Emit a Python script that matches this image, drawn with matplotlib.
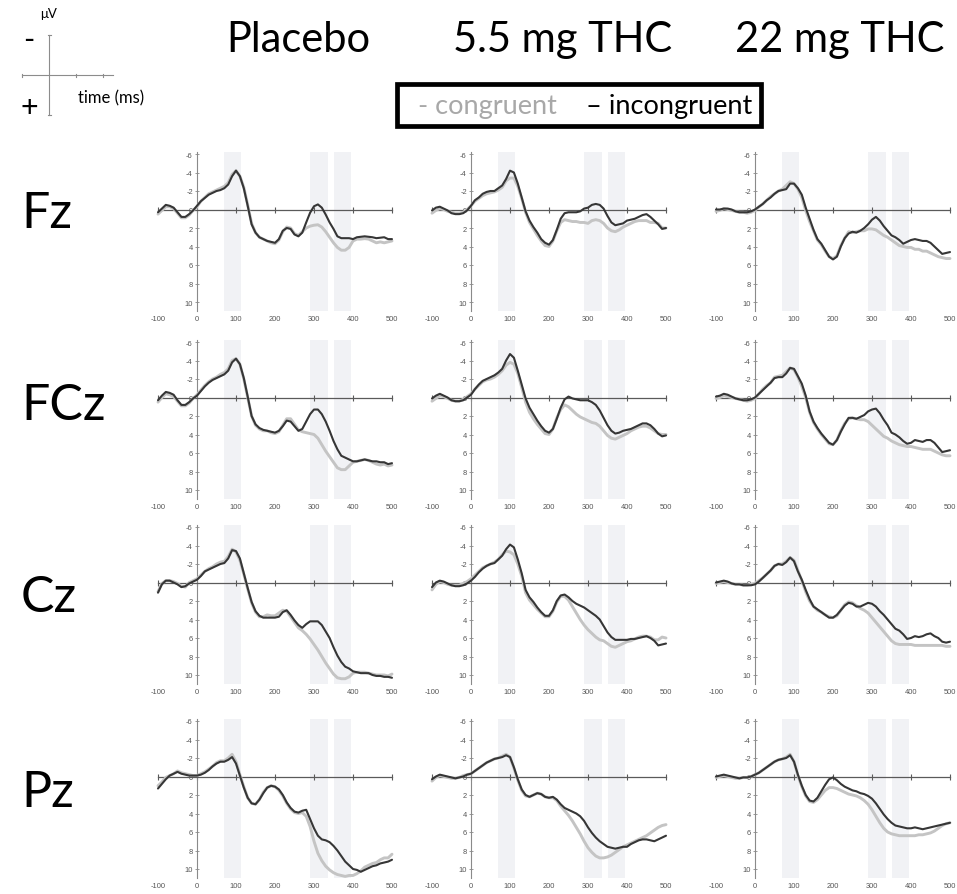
import matplotlib
matplotlib.use('Agg')
import matplotlib.pyplot as plt
from matplotlib.patches import Rectangle

plt.rcParams['axes.unicode_minus'] = False
plt.rcParams['font.family'] = ['Lato', 'DejaVu Sans']

# time axis (ms), one value every 10 ms
times = list(range(-100, 501, 10))
conditions = ['Placebo', '5.5 mg THC', '22 mg THC']
electrodes = ['Fz', 'FCz', 'Cz', 'Pz']
y_ticks = [-6, -4, -2, 0, 2, 4, 6, 8, 10]
x_ticks = [-100, 0, 100, 200, 300, 400, 500]
windows = [(68, 112), (290, 335), (350, 396)]

# values in microvolt (inc = incongruent, con = congruent)
fz_pla_inc = [0.3, -0.1, -0.5, -0.4, -0.2, 0.3, 0.8, 0.8, 0.5, 0.1,
              -0.4, -0.9, -1.25, -1.6, -1.8, -2.0, -2.1, -2.3, -2.7, -3.6,
              -4.2, -3.6, -2.3, -0.4, 1.6, 2.5, 3.0, 3.2, 3.4, 3.5,
              3.6, 3.2, 2.3, 2.0, 2.1, 2.7, 2.9, 2.5, 1.4, 0.35,
              -0.35, -0.55, -0.2, 0.55, 1.4, 2.1, 2.9, 3.1, 3.1, 3.1,
              3.2, 3.0, 2.95, 2.9, 2.95, 3.0, 3.1, 3.05, 3.0, 3.2,
              3.2]
fz_pla_con = [0.5, 0.1, -0.3, -0.3, -0.1, 0.4, 0.9, 0.9, 0.6, 0.1,
              -0.3, -0.9, -1.3, -1.7, -1.9, -2.1, -2.3, -2.5, -2.9, -3.8,
              -4.2, -3.6, -2.4, -0.5, 1.5, 2.5, 3.0, 3.2, 3.4, 3.6,
              3.7, 3.3, 2.4, 1.9, 2.0, 2.6, 2.8, 2.4, 2.0, 1.8,
              1.7, 1.65, 1.9, 2.4, 3.0, 3.6, 4.1, 4.4, 4.4, 4.1,
              3.4, 3.2, 3.2, 3.15, 3.2, 3.4, 3.6, 3.5, 3.6, 3.5,
              3.4]
fz_55_inc = [0.1, -0.2, -0.3, -0.1, 0.1, 0.4, 0.5, 0.5, 0.4, 0.1,
             -0.4, -1.0, -1.3, -1.7, -1.9, -2.0, -2.0, -2.3, -2.6, -3.3,
             -4.2, -4.0, -2.8, -1.3, 0.2, 1.2, 1.9, 2.5, 3.2, 3.6,
             3.8, 3.3, 2.2, 1.0, 0.4, 0.3, 0.3, 0.3, 0.2, -0.1,
             -0.2, -0.5, -0.6, -0.5, -0.1, 0.7, 1.4, 1.7, 1.6, 1.5,
             1.2, 1.1, 1.0, 0.8, 0.6, 0.5, 0.8, 1.2, 1.6, 2.1,
             2.0]
fz_55_con = [0.4, 0.1, -0.1, 0.0, 0.2, 0.3, 0.4, 0.4, 0.3, 0.0,
             -0.4, -0.9, -1.2, -1.5, -1.7, -1.8, -1.9, -2.1, -2.4, -3.1,
             -3.4, -3.4, -2.5, -1.2, 0.3, 1.4, 2.1, 2.8, 3.4, 3.9,
             4.0, 3.4, 2.3, 1.4, 1.1, 1.2, 1.3, 1.3, 1.4, 1.4,
             1.5, 1.2, 1.1, 1.2, 1.5, 2.0, 2.3, 2.4, 2.2, 1.9,
             1.7, 1.5, 1.3, 1.2, 1.2, 1.2, 1.4, 1.4, 1.5, 2.0,
             2.0]
fz_22_inc = [0.0, 0.0, -0.1, -0.1, 0.0, 0.2, 0.3, 0.3, 0.3, 0.2,
             0.0, -0.3, -0.6, -1.0, -1.3, -1.7, -2.0, -2.1, -2.2, -2.8,
             -2.8, -2.3, -1.6, -0.2, 1.0, 2.2, 3.2, 3.7, 4.4, 5.1,
             5.4, 5.1, 4.0, 3.1, 2.6, 2.4, 2.5, 2.3, 2.0, 1.6,
             1.1, 0.8, 1.2, 1.8, 2.3, 2.8, 3.0, 3.3, 3.7, 3.5,
             3.3, 3.2, 3.3, 3.4, 3.4, 3.6, 4.0, 4.4, 4.8, 4.7,
             4.6]
fz_22_con = [0.2, 0.1, -0.1, 0.0, 0.1, 0.2, 0.3, 0.3, 0.4, 0.3,
             0.1, -0.3, -0.6, -1.0, -1.4, -1.7, -2.0, -2.2, -2.6, -3.0,
             -2.8, -2.2, -1.3, 0.1, 1.3, 2.3, 3.3, 3.8, 4.5, 5.1,
             5.3, 5.0, 3.9, 3.1, 2.4, 2.5, 2.4, 2.3, 2.3, 2.1,
             2.1, 2.2, 2.5, 2.8, 3.0, 3.3, 3.6, 3.9, 4.0, 4.1,
             4.1, 4.3, 4.3, 4.5, 4.5, 4.7, 4.9, 5.1, 5.2, 5.3,
             5.3]

fcz_pla_inc = [0.3, -0.2, -0.6, -0.5, -0.3, 0.3, 0.8, 0.8, 0.5, 0.1,
               -0.2, -0.7, -1.2, -1.6, -1.9, -2.1, -2.3, -2.5, -2.9, -3.8,
               -4.2, -3.6, -2.1, -0.1, 2.0, 2.9, 3.3, 3.5, 3.6, 3.7,
               3.8, 3.6, 3.1, 2.5, 2.6, 3.1, 3.6, 3.4, 2.6, 1.8,
               1.3, 1.3, 1.8, 2.6, 3.6, 4.7, 5.6, 6.3, 6.5, 6.7,
               6.9, 6.9, 6.8, 6.7, 6.8, 6.9, 6.9, 7.0, 7.0, 7.2,
               7.1]
fcz_pla_con = [0.5, 0.0, -0.4, -0.3, -0.1, 0.4, 0.9, 0.9, 0.6, 0.1,
               -0.3, -0.8, -1.3, -1.7, -2.0, -2.2, -2.5, -2.7, -3.1, -4.0,
               -4.2, -3.6, -2.0, 0.0, 2.0, 3.0, 3.4, 3.6, 3.6, 3.8,
               3.9, 3.7, 3.0, 2.3, 2.3, 2.9, 3.5, 3.7, 3.8, 3.9,
               4.0, 4.4, 5.1, 5.8, 6.4, 7.0, 7.6, 7.8, 7.8, 7.4,
               7.0, 6.9, 6.8, 6.7, 6.8, 7.0, 7.2, 7.3, 7.2, 7.4,
               7.3]
fcz_55_inc = [0.1, -0.2, -0.4, -0.2, 0.0, 0.3, 0.4, 0.4, 0.3, 0.0,
              -0.3, -0.9, -1.4, -1.8, -2.0, -2.2, -2.4, -2.7, -3.1, -4.0,
              -4.7, -4.3, -2.9, -1.4, 0.1, 1.1, 1.8, 2.5, 3.1, 3.6,
              3.8, 3.4, 2.3, 1.1, 0.2, -0.1, 0.1, 0.2, 0.3, 0.3,
              0.3, 0.5, 0.8, 1.4, 2.2, 3.0, 3.6, 3.9, 3.8, 3.6,
              3.5, 3.4, 3.2, 3.0, 2.8, 2.8, 3.0, 3.4, 3.9, 4.2,
              4.1]
fcz_55_con = [0.4, 0.1, -0.2, -0.1, 0.1, 0.3, 0.4, 0.4, 0.2, -0.1,
              -0.4, -0.9, -1.3, -1.7, -1.9, -2.0, -2.2, -2.5, -2.9, -3.5,
              -3.8, -3.6, -2.6, -1.1, 0.5, 1.6, 2.3, 2.9, 3.4, 3.9,
              4.0, 3.4, 2.2, 1.3, 0.8, 1.0, 1.4, 1.8, 2.1, 2.3,
              2.5, 2.7, 2.8, 3.1, 3.6, 4.1, 4.4, 4.5, 4.3, 4.1,
              3.9, 3.6, 3.4, 3.2, 3.1, 3.1, 3.3, 3.6, 3.9, 4.0,
              4.0]
fcz_22_inc = [-0.1, -0.2, -0.4, -0.3, -0.1, 0.1, 0.2, 0.3, 0.3, 0.2,
              0.0, -0.4, -0.8, -1.2, -1.6, -2.1, -2.2, -2.2, -2.6, -3.2,
              -3.1, -2.3, -1.5, -0.2, 1.5, 2.6, 3.3, 3.9, 4.4, 4.9,
              5.1, 4.6, 3.7, 2.9, 2.2, 2.2, 2.3, 2.1, 1.9, 1.5,
              1.3, 1.2, 1.7, 2.4, 3.0, 3.8, 4.0, 4.3, 4.7, 5.0,
              4.9, 4.6, 4.7, 4.8, 4.6, 4.6, 4.9, 5.4, 5.9, 5.8,
              5.7]
fcz_22_con = [0.1, 0.0, -0.2, -0.1, 0.0, 0.1, 0.2, 0.3, 0.4, 0.3,
              0.1, -0.4, -0.9, -1.3, -1.6, -2.2, -2.3, -2.4, -2.8, -3.2,
              -3.0, -2.2, -1.2, 0.0, 1.6, 2.7, 3.4, 4.0, 4.5, 5.0,
              5.1, 4.6, 3.6, 2.8, 2.3, 2.2, 2.3, 2.4, 2.4, 2.6,
              3.0, 3.4, 3.8, 4.2, 4.4, 4.7, 4.9, 5.1, 5.2, 5.3,
              5.3, 5.4, 5.5, 5.6, 5.6, 5.6, 5.8, 6.0, 6.2, 6.3,
              6.3]

cz_pla_inc = [1.1, 0.2, -0.2, -0.2, 0.0, 0.2, 0.5, 0.4, 0.1, -0.1,
              -0.3, -0.7, -1.2, -1.4, -1.6, -1.8, -2.0, -2.1, -2.6, -3.5,
              -3.4, -2.6, -1.0, 0.6, 2.1, 3.1, 3.6, 3.8, 3.8, 3.8,
              3.8, 3.7, 3.2, 3.0, 3.5, 4.1, 4.6, 4.9, 4.5, 4.2,
              4.2, 4.2, 4.6, 5.3, 6.0, 7.0, 7.9, 8.6, 9.1, 9.3,
              9.6, 9.7, 9.8, 9.8, 9.8, 10.0, 10.1, 10.1, 10.2, 10.2,
              10.3]
cz_pla_con = [1.0, 0.1, -0.2, -0.2, -0.1, 0.1, 0.4, 0.5, 0.0, -0.2,
              -0.4, -0.8, -1.2, -1.5, -1.7, -2.0, -2.2, -2.3, -2.8, -3.6,
              -3.3, -2.4, -0.9, 0.7, 2.2, 3.2, 3.7, 3.7, 3.5, 3.6,
              3.6, 3.3, 3.0, 3.1, 3.7, 4.3, 4.9, 5.2, 5.6, 6.1,
              6.7, 7.3, 8.0, 8.7, 9.3, 9.9, 10.3, 10.4, 10.4, 10.2,
              9.8, 9.7, 9.7, 9.7, 9.8, 9.9, 10.0, 10.0, 10.0, 10.1,
              9.9]
cz_55_inc = [0.5, 0.0, -0.2, -0.1, 0.1, 0.3, 0.4, 0.4, 0.3, 0.1,
             -0.2, -0.6, -1.1, -1.5, -1.8, -2.0, -2.1, -2.5, -2.9, -3.6,
             -4.1, -3.8, -2.5, -1.0, 0.8, 1.6, 2.1, 2.7, 3.2, 3.6,
             3.6, 3.0, 2.0, 1.4, 1.3, 1.6, 2.0, 2.3, 2.5, 2.7,
             3.0, 3.3, 3.6, 4.0, 4.7, 5.4, 5.9, 6.2, 6.2, 6.2,
             6.2, 6.1, 6.1, 6.0, 5.9, 5.8, 6.0, 6.3, 6.8, 6.7,
             6.6]
cz_55_con = [0.8, 0.2, -0.1, 0.0, 0.2, 0.3, 0.3, 0.3, 0.1, -0.1,
             -0.4, -0.8, -1.2, -1.6, -1.8, -2.0, -2.2, -2.5, -3.0, -3.4,
             -3.3, -3.0, -2.0, -0.7, 1.1, 1.9, 2.4, 2.9, 3.3, 3.7,
             3.7, 3.1, 2.1, 1.5, 1.5, 1.9, 2.6, 3.3, 4.0, 4.6,
             5.1, 5.5, 5.9, 6.2, 6.3, 6.6, 6.9, 7.0, 6.8, 6.6,
             6.4, 6.3, 6.1, 5.9, 5.8, 5.8, 5.9, 6.2, 6.2, 5.9,
             6.0]
cz_22_inc = [0.0, -0.1, -0.2, -0.1, 0.1, 0.2, 0.2, 0.3, 0.3, 0.3,
             0.2, -0.1, -0.5, -0.9, -1.3, -1.8, -2.0, -1.9, -2.2, -2.7,
             -2.3, -1.2, -0.3, 0.8, 1.8, 2.6, 2.9, 3.2, 3.5, 3.8,
             3.8, 3.5, 3.0, 2.5, 2.2, 2.3, 2.6, 2.6, 2.4, 2.2,
             2.3, 2.6, 3.1, 3.5, 4.0, 4.5, 5.0, 5.2, 5.6, 6.1,
             6.0, 5.8, 5.9, 5.8, 5.6, 5.5, 5.8, 6.0, 6.4, 6.5,
             6.4]
cz_22_con = [0.1, 0.0, -0.1, 0.0, 0.1, 0.2, 0.2, 0.3, 0.3, 0.2,
             0.1, -0.2, -0.5, -0.9, -1.3, -1.8, -2.0, -2.0, -2.3, -2.7,
             -2.4, -1.3, -0.2, 1.0, 2.0, 2.6, 3.0, 3.2, 3.5, 3.7,
             3.8, 3.6, 3.0, 2.4, 2.1, 2.2, 2.5, 2.8, 3.0, 3.3,
             3.8, 4.3, 4.8, 5.3, 5.8, 6.3, 6.6, 6.7, 6.7, 6.7,
             6.7, 6.8, 6.8, 6.8, 6.8, 6.8, 6.8, 6.8, 6.8, 6.9,
             6.9]

pz_pla_inc = [1.3, 0.8, 0.3, -0.1, -0.3, -0.5, -0.3, -0.2, -0.1, -0.1,
              -0.1, -0.2, -0.4, -0.7, -1.1, -1.4, -1.6, -1.6, -1.8, -2.1,
              -1.4, -0.1, 1.2, 2.3, 2.9, 3.0, 2.5, 1.8, 1.2, 1.0,
              1.1, 1.4, 2.0, 2.8, 3.4, 3.8, 3.9, 3.7, 3.6, 4.6,
              5.6, 6.4, 6.8, 6.9, 7.1, 7.5, 8.0, 8.6, 9.2, 9.6,
              10.0, 10.1, 10.3, 10.1, 9.9, 9.7, 9.6, 9.4, 9.3, 9.2,
              9.0]
pz_pla_con = [1.0, 0.6, 0.1, -0.1, -0.3, -0.6, -0.4, -0.3, -0.2, -0.1,
              -0.1, -0.3, -0.5, -0.8, -1.1, -1.5, -1.7, -1.7, -2.0, -2.4,
              -1.6, -0.2, 1.1, 2.3, 2.9, 3.0, 2.5, 1.7, 1.2, 1.0,
              1.1, 1.5, 2.1, 2.9, 3.5, 3.9, 4.0, 3.9, 4.3, 5.4,
              7.0, 8.3, 9.1, 9.7, 10.1, 10.4, 10.6, 10.7, 10.8, 10.7,
              10.7, 10.5, 10.2, 9.8, 9.6, 9.4, 9.3, 9.0, 8.8, 8.8,
              8.4]
pz_55_inc = [0.3, 0.0, -0.2, -0.1, 0.0, 0.1, 0.2, 0.1, 0.0, -0.2,
             -0.3, -0.6, -0.9, -1.2, -1.5, -1.7, -1.9, -2.0, -2.1, -2.3,
             -2.1, -1.0, 0.3, 1.4, 2.0, 2.2, 2.0, 1.8, 1.9, 2.2,
             2.3, 2.2, 2.5, 3.0, 3.4, 3.6, 3.8, 4.0, 4.3, 4.8,
             5.5, 6.1, 6.6, 7.0, 7.3, 7.6, 7.7, 7.8, 7.7, 7.6,
             7.6, 7.3, 7.1, 6.9, 6.8, 6.8, 6.9, 7.0, 6.8, 6.6,
             6.4]
pz_55_con = [0.5, 0.1, -0.1, 0.0, 0.1, 0.2, 0.2, 0.1, -0.1, -0.2,
             -0.3, -0.6, -0.9, -1.2, -1.5, -1.7, -1.9, -2.0, -2.2, -2.4,
             -2.1, -0.9, 0.4, 1.5, 2.1, 2.2, 2.0, 1.8, 1.9, 2.2,
             2.3, 2.3, 2.6, 3.2, 3.7, 4.2, 4.8, 5.5, 6.2, 7.0,
             7.7, 8.2, 8.6, 8.8, 8.8, 8.7, 8.5, 8.2, 7.9, 7.6,
             7.4, 7.2, 7.0, 6.8, 6.6, 6.4, 6.1, 5.8, 5.5, 5.3,
             5.2]
pz_22_inc = [0.0, -0.1, -0.2, -0.1, 0.0, 0.1, 0.2, 0.1, 0.1, 0.0,
             -0.2, -0.4, -0.7, -1.0, -1.3, -1.6, -1.8, -1.9, -2.0, -2.3,
             -1.6, -0.2, 1.0, 2.0, 2.6, 2.7, 2.3, 1.6, 0.9, 0.3,
             0.1, 0.4, 0.8, 1.1, 1.3, 1.5, 1.6, 1.8, 1.9, 2.1,
             2.4, 2.9, 3.5, 4.1, 4.6, 5.0, 5.3, 5.4, 5.5, 5.6,
             5.6, 5.5, 5.6, 5.7, 5.6, 5.5, 5.4, 5.3, 5.2, 5.1,
             5.0]
pz_22_con = [0.1, 0.0, -0.1, 0.0, 0.1, 0.2, 0.2, 0.1, 0.1, 0.0,
             -0.2, -0.4, -0.7, -1.0, -1.3, -1.6, -1.8, -1.9, -2.1, -2.4,
             -1.6, -0.1, 1.1, 2.1, 2.7, 2.8, 2.5, 2.0, 1.5, 1.2,
             1.2, 1.3, 1.5, 1.7, 1.9, 2.0, 2.1, 2.3, 2.6, 3.0,
             3.6, 4.3, 5.0, 5.6, 6.0, 6.2, 6.3, 6.4, 6.4, 6.4,
             6.4, 6.4, 6.3, 6.3, 6.2, 6.1, 5.9, 5.6, 5.3, 5.1,
             5.0]

incongruent = [[fz_pla_inc, fz_55_inc, fz_22_inc],
               [fcz_pla_inc, fcz_55_inc, fcz_22_inc],
               [cz_pla_inc, cz_55_inc, cz_22_inc],
               [pz_pla_inc, pz_55_inc, pz_22_inc]]
congruent = [[fz_pla_con, fz_55_con, fz_22_con],
             [fcz_pla_con, fcz_55_con, fcz_22_con],
             [cz_pla_con, cz_55_con, cz_22_con],
             [pz_pla_con, pz_55_con, pz_22_con]]

W, H = 957, 895
fig = plt.figure(figsize=(W / 100, H / 100), dpi=100)

# panel placement in pixels
col_left = [158, 432, 716]      # where -100 ms sits
col_width = 234                 # -100 .. 500 ms
row_top = [155, 343, 528, 722]  # where -6 uV sits
unit = 9.25                     # px per uV
x_lo, x_hi = -104, 504
y_top, y_bot = -6.2, 11
tick_font = ['Liberation Sans', 'DejaVu Sans']

px_ms = col_width / 600.0
for r in range(4):
    for c in range(3):
        left = col_left[c] + (x_lo + 100) * px_ms
        width = (x_hi - x_lo) * px_ms
        top = row_top[r] + (y_top + 6) * unit
        bottom = row_top[r] + (y_bot + 6) * unit
        ax = fig.add_axes([left / W, 1 - bottom / H, width / W, (bottom - top) / H])
        ax.set_facecolor('none')
        ax.set_xlim(x_lo, x_hi)
        ax.set_ylim(y_bot, y_top)
        for w in windows:
            ax.axvspan(w[0], w[1], color='#f1f2f5', lw=0, zorder=0)
        ax.plot(times, congruent[r][c], color='#c4c4c4', lw=2.1, zorder=3,
                solid_capstyle='round')
        ax.plot(times, incongruent[r][c], color='#363636', lw=1.5, zorder=4,
                solid_capstyle='round')

        ax.spines['top'].set_visible(False)
        ax.spines['right'].set_visible(False)
        ax.spines['left'].set_position(('data', 0))
        ax.spines['bottom'].set_position(('data', 0))
        ax.spines['bottom'].set_bounds(-100, 500)
        ax.spines['left'].set_color('#8a8a8a')
        ax.spines['left'].set_linewidth(0.8)
        ax.spines['bottom'].set_color('#5a5a5a')
        ax.spines['bottom'].set_linewidth(0.9)

        ax.set_yticks(y_ticks)
        ax.set_yticklabels([str(t) for t in y_ticks], family=tick_font)
        ax.tick_params(axis='y', direction='inout', length=3, width=0.6,
                       color='#8a8a8a', labelsize=5.4, labelcolor='#555555', pad=1.5)
        ax.set_xticks(x_ticks)
        ax.tick_params(axis='x', direction='inout', length=5, width=0.8,
                       color='#5a5a5a', labelbottom=False)

        sec = ax.secondary_xaxis('bottom')
        sec.set_xticks(x_ticks)
        sec.set_xticklabels([str(t) for t in x_ticks], family=tick_font)
        sec.tick_params(length=0, labelsize=5.4, labelcolor='#555555', pad=3)
        sec.spines['bottom'].set_visible(False)

# overlay for titles, row labels, legend and the axis key
ov = fig.add_axes([0, 0, 1, 1])
ov.set_xlim(0, W)
ov.set_ylim(H, 0)
ov.axis('off')

title_x = [298, 563, 840]
for x, name in zip(title_x, conditions):
    ov.text(x, 40, name, fontsize=30, ha='center', va='center', color='black')

row_y = [214, 406, 598, 793]
for y, name in zip(row_y, electrodes):
    ov.text(21, y, name, fontsize=36, ha='left', va='center', color='black')

# legend box
ov.add_patch(Rectangle((397, 85), 364, 42, fill=False, ec='black', lw=3.4))
ov.text(418, 106, '- congruent', fontsize=19.5, color='#a8a8a8', ha='left', va='center')
ov.text(586, 106, '\u2013 incongruent', fontsize=19.5, color='black', ha='left', va='center')

# axis key in the corner
key = '#8c8c8c'
ov.plot([49, 49], [36, 116], color=key, lw=0.8)
ov.plot([22, 113], [76, 76], color=key, lw=0.8)
for tx in [22, 76, 103]:
    ov.plot([tx, tx], [74.5, 77.5], color=key, lw=0.8)
for ty in [36, 116]:
    ov.plot([47.5, 50.5], [ty, ty], color=key, lw=0.8)
ov.text(49, 14, '\u03bcV', fontsize=9.5, ha='center', va='center')
ov.text(29, 40, '-', fontsize=22, ha='center', va='center')
ov.text(29, 108, '+', fontsize=22, ha='center', va='center')
ov.text(78, 98, 'time (ms)', fontsize=12, ha='left', va='center')

fig.savefig('out.png', dpi=100)
